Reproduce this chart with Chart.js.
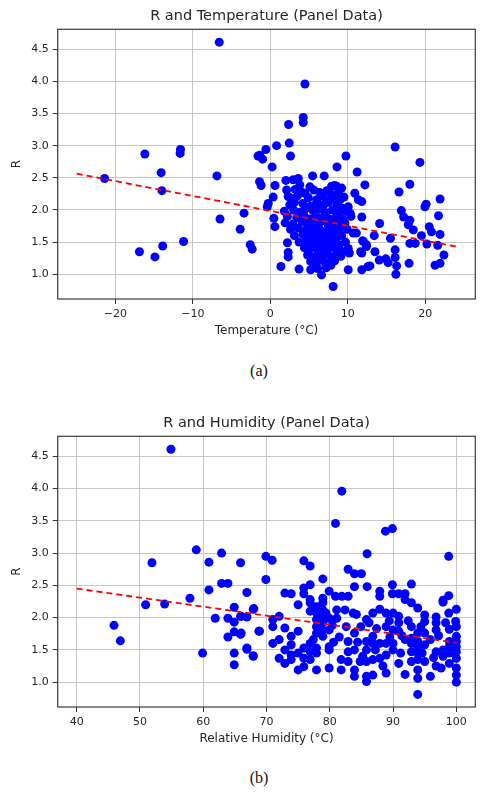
<!DOCTYPE html>
<html>
<head>
<meta charset="utf-8">
<script src="https://cdn.jsdelivr.net/npm/chart.js@4.4.1/dist/chart.umd.min.js"></script>
<style>
  html, body { margin: 0; padding: 0; background: #fff; }
  body { width: 502px; height: 793px; position: relative; overflow: hidden; }
  canvas { position: absolute; left: 0; }
  #chartA { top: 0; }
  #chartB { top: 407px; }
  .caption { position: absolute; left: 239px; width: 40px; text-align: center;
             font-family: "Liberation Serif", "DejaVu Serif", serif; font-size: 16px; color: #111; }
</style>
</head>
<body>
<canvas id="chartA" width="502" height="345"></canvas>
<div class="caption" style="top: 362px;">(a)</div>
<canvas id="chartB" width="502" height="346"></canvas>
<div class="caption" style="top: 769px;">(b)</div>
<script>
// tick labels
const rTicks = [1.0, 1.5, 2.0, 2.5, 3.0, 3.5, 4.0, 4.5];
const tempTicks = [-20, -10, 0, 10, 20];
const humTicks = [40, 50, 60, 70, 80, 90, 100];

// (a) temperature (°C) vs R
const tempPoints = [
  [-6.6,4.61],[-16.2,2.87],[-11.6,2.94],[-11.65,2.88],[-14.1,2.58],[-14.0,2.30],[-21.4,2.49],[-6.9,2.53],
  [-1.6,2.84],[-1.4,2.44],[-1.2,2.38],[-6.5,1.86],[-3.4,1.95],[-3.9,1.70],[-2.6,1.46],[-2.35,1.39],
  [-16.9,1.35],[-14.9,1.27],[-13.9,1.44],[-11.2,1.51],
  [4.46,3.96],[4.24,3.44],[4.24,3.36],[2.35,3.33],[2.43,3.04],[0.8,3.0],[-0.58,2.94],[-1.36,2.85],
  [-1.0,2.79],[2.6,2.84],[0.23,2.67],[16.1,2.98],[19.3,2.74],[9.75,2.84],[8.6,2.67],[11.2,2.59],
  [18.0,2.40],[16.6,2.28],[21.9,2.17],[12.2,2.39],[0.6,2.38],[2.0,2.46],[3.6,2.49],[5.45,2.53],
  [6.95,2.53],[8.3,2.38],[10.9,2.26],[2.1,2.31],[2.95,2.47],[3.8,2.39],[5.1,2.36],[7.9,2.37],
  [8.55,2.37],[9.2,2.34],[11.35,2.16],[0.36,2.20],[-0.28,2.10],[-0.4,2.05],[2.3,2.21],[4.46,2.26],
  [5.97,2.16],[7.7,2.16],[9.0,2.16],[10.05,2.05],[10.3,1.95],[9.6,1.79],[11.1,1.64],[12.0,1.51],
  [12.4,1.43],[0.45,1.87],[0.58,1.74],[2.2,1.49],[2.3,1.34],[2.3,1.27],[1.36,1.12],[3.7,1.08],
  [5.2,1.07],[6.6,0.99],[7.8,1.14],[8.1,0.81],[10.05,1.07],[11.8,1.07],[12.6,1.12],[10.2,1.33],
  [11.8,1.33],[12.85,1.13],[14.05,1.22],[14.9,1.24],[15.2,1.18],[16.1,1.26],[16.3,1.13],[16.2,1.0],
  [17.9,1.17],[21.25,1.14],[21.9,1.17],[22.4,1.30],[21.6,1.45],[20.2,1.47],[18.7,1.48],[18.0,1.48],
  [16.1,1.38],[13.5,1.35],[12.4,1.46],[11.9,1.52],[11.65,1.35],[13.4,1.6],[14.1,1.79],[15.5,1.56],
  [16.9,1.99],[17.2,1.89],[18.0,1.84],[18.45,1.69],[19.5,1.6],[19.95,2.05],[20.1,2.09],[20.5,1.74],
  [20.8,1.66],[21.7,1.91],[21.9,1.62],[11.8,1.89],[10.7,1.64],[10.05,1.40],[9.4,1.35],[11.8,2.13],
  [17.8,1.77],
  [3.2,2.32],[4.0,2.28],[5.6,2.31],[6.4,2.27],[7.3,2.30],[8.8,2.29],
  [2.8,2.18],[3.5,2.22],[4.9,2.19],[6.8,2.21],[7.9,2.24],[8.4,2.18],[9.5,2.2],
  [2.5,2.08],[3.1,2.12],[4.2,2.1],[5.2,2.06],[6.0,2.11],[6.9,2.08],[7.5,2.12],[8.6,2.09],[9.2,2.03],
  [1.8,1.98],[3.0,2.0],[3.9,1.97],[4.6,2.02],[5.5,1.99],[6.3,2.01],[7.1,1.96],[8.0,2.0],[8.9,1.97],[9.8,1.98],
  [2.2,1.9],[3.4,1.88],[4.3,1.92],[5.0,1.86],[5.8,1.9],[6.5,1.87],[7.2,1.91],[7.8,1.85],[8.5,1.89],[9.3,1.86],[10.4,1.9],
  [1.9,1.8],[2.9,1.78],[4.1,1.82],[4.8,1.77],[5.4,1.81],[6.1,1.79],[6.7,1.83],[7.4,1.78],[8.1,1.8],[8.7,1.76],[9.6,1.8],
  [2.6,1.7],[3.6,1.72],[4.5,1.68],[5.1,1.72],[5.7,1.69],[6.3,1.71],[6.9,1.66],[7.6,1.7],[8.3,1.68],[9.0,1.72],[9.9,1.7],
  [3.1,1.6],[4.2,1.62],[4.9,1.58],[5.5,1.61],[6.0,1.57],[6.6,1.62],[7.2,1.58],[7.8,1.61],[8.5,1.57],[9.2,1.6],
  [3.7,1.5],[4.6,1.52],[5.3,1.48],[5.9,1.51],[6.5,1.47],[7.0,1.52],[7.7,1.49],[8.3,1.51],[8.9,1.46],[9.7,1.5],
  [4.4,1.41],[5.0,1.38],[5.7,1.42],[6.2,1.37],[6.8,1.41],[7.4,1.38],[8.0,1.42],[8.7,1.39],
  [4.8,1.3],[5.5,1.27],[6.1,1.31],[6.7,1.28],[7.3,1.32],[7.9,1.27],[8.5,1.31],[9.1,1.28],
  [5.2,1.2],[5.9,1.17],[6.4,1.22],[7.0,1.19],[7.7,1.16],[8.3,1.21],
  [6.1,1.09],[7.2,1.1],[5.6,1.12]
];
const tempFitX = [-25, 24];
const tempFitR = [2.564, 1.43];

// (b) relative humidity vs R
const humPoints = [
  [54.9,4.61],[51.9,2.85],[58.9,3.05],[62.9,3.0],[60.9,2.86],[65.9,2.85],[62.9,2.53],[63.9,2.53],
  [60.9,2.43],[66.9,2.39],[57.9,2.30],[50.9,2.2],[53.9,2.21],[64.9,2.16],[68.0,2.14],
  [45.9,1.88],[46.9,1.64],[59.9,1.45],[61.9,1.99],[63.9,1.99],[64.9,1.93],[65.9,2.02],[66.9,2.01],
  [63.9,1.70],[64.9,1.78],[65.9,1.74],[64.9,1.45],[64.9,1.27],[66.9,1.51],[67.9,1.41],[68.8,1.79],
  [81.9,3.96],[80.9,3.46],[88.8,3.34],[89.9,3.38],[98.8,2.95],[85.9,2.99],[69.9,2.95],[70.9,2.89],
  [75.9,2.88],[76.9,2.80],[82.9,2.75],[83.9,2.68],[85.0,2.68],[69.9,2.59],[78.9,2.60],[76.9,2.51],
  [75.9,2.46],[75.9,2.37],[83.9,2.48],[85.9,2.48],[89.9,2.51],[92.9,2.52],[72.9,2.38],[73.9,2.37],
  [79.9,2.41],[80.9,2.33],[82.9,2.33],[87.9,2.41],[87.9,2.33],[89.9,2.37],[90.9,2.37],[91.9,2.37],
  [98.8,2.34],[78.9,2.30],[76.9,2.28],[97.9,2.27],
  [67.9,2.13],[81.9,2.33],[97.9,2.24],[100,2.13],[98.8,2.07],[99.9,1.94],[100,1.86],[98.9,1.82],
  [100,1.71],[100,1.63],[98.9,1.63],[100,1.55],[98.9,1.55],[100,1.47],[98.9,1.45],[100,1.37],
  [98.9,1.29],[100,1.22],[100,1.11],[100,1.0],[97.9,1.50],[97.9,1.40],[96.8,2.01],[96.8,1.92],
  [96.8,1.81],[96.8,1.47],[97.6,1.22],[96.8,1.25],[95.9,1.09],[95,2.04],[95,1.94],[95,1.76],
  [95,1.58],[95,1.32],[93.9,2.15],[93.9,1.76],[93.9,1.63],[93.9,1.55],[93.9,1.45],[93.9,1.35],
  [93.9,1.19],[93.9,1.06],[93.9,0.81],[92.9,2.23],[92.9,1.86],[92.9,1.68],[92.9,1.60],[92.9,1.47],
  [92.9,1.32],[91.9,2.28],[91.9,1.66],[91.9,1.12],[90.9,2.02],[90.9,1.92],[90.9,1.79],[90.9,1.29],
  [90,2.07],[90,1.81],[90,1.60],[90,1.50],[88.9,2.07],[88.9,1.86],[88.9,1.60],[88.9,1.42],
  [88.9,1.14],[87.9,2.13],[87.9,1.60],[87.9,1.37],[86.8,2.07],[86.8,1.71],[86.8,1.60],[86.8,1.35],
  [86.8,1.11],[85.8,1.97],[85.8,1.63],[85.8,1.50],[85.8,1.32],[85.8,1.09],[85.8,1.01],[84.8,1.32],
  [83.9,1.76],[83.9,1.50],[83.9,1.19],[83.9,1.09],[83.7,2.07],[84.2,2.05],[82.9,1.63],[82.9,1.47],
  [82.9,1.32],[81.8,1.35],[81.8,1.19],[82.4,2.12],[81.1,2.12],[81.1,1.99],[82.6,1.86],[79.9,1.99],
  [79.9,1.81],[79.9,1.55],[79.9,1.50],[79.9,1.22],[78.9,2.23],[78.9,2.12],[78.9,2.02],[78.9,1.92],
  [78.9,1.81],[78.9,1.71],[77.9,2.17],[77.9,2.07],[77.9,1.97],[77.9,1.86],[77.9,1.76],[77.9,1.53],
  [77.9,1.45],[77.9,1.19],[76.9,2.23],[76.9,2.10],[76.9,1.60],[76.9,1.47],[76.9,1.35],[75.9,1.53],
  [75.9,1.37],[75.9,1.24],[75.0,2.20],[75.0,1.79],[75.0,1.45],[75.0,1.19],[73.9,1.71],[73.9,1.58],
  [73.9,1.42],[73.9,1.35],[72.9,1.84],[72.9,1.50],[72.9,1.29],[72.0,2.02],[72.0,1.66],[72.0,1.37],
  [71.0,1.97],[71.0,1.86],[71.0,1.60],[68.9,1.79],[67.9,1.40],[66.9,1.53],[66.0,1.76],[66.0,2.02],
  [84.9,1.86],[86.2,1.92],[87.4,1.83],[89.4,1.95],[91.4,1.72],[92.4,1.95],[94.4,1.86],[95.9,1.66],
  [97.2,1.72],[98.3,1.92],[89.5,1.70],[87.2,1.50],[91.2,1.45],[94.6,1.45],[96.4,1.38],[84.4,1.62],
  [88.4,1.25],[85.2,1.40],[80.4,1.88],[81.5,1.70],[79.4,2.07],[78.4,1.90],[77.4,1.66],[80.6,1.62]
];
const humFitX = [40, 100];
const humFitR = [2.45, 1.61];

const FONT = 'DejaVu Sans';
const TEXT = '#262626';

// frame around the plot area (all four spines)
const framePlugin = {
  id: 'frame',
  afterDraw(chart) {
    const { ctx, chartArea: a } = chart;
    ctx.save();
    ctx.strokeStyle = '#3a3a3a';
    ctx.lineWidth = 1.2;
    ctx.strokeRect(a.left, a.top, a.right - a.left, a.bottom - a.top);
    ctx.restore();
  }
};

function fmtX(v) {
  return v < 0 ? '\u2212' + Math.abs(v) : String(v);
}

function makeChart(id, cfg) {
  const ctx = document.getElementById(id).getContext('2d');
  return new Chart(ctx, {
    type: 'scatter',
    data: {
      datasets: [{
        type: 'line',
        data: cfg.fitX.map((x, i) => ({ x: x, y: cfg.fitY[i] })),
        borderColor: '#ff0000',
        borderWidth: 1.8,
        borderDash: [6, 4],
        pointRadius: 0,
        fill: false,
        order: 0
      }, {
        data: cfg.points.map(p => ({ x: p[0], y: p[1] })),
        backgroundColor: '#0000ff',
        borderWidth: 0,
        pointRadius: 4.5,
        pointHoverRadius: 4.5,
        order: 1
      }]
    },
    options: {
      responsive: false,
      animation: false,
      layout: { padding: { left: 0, right: 26.7, top: 0, bottom: 0 } },
      plugins: {
        legend: { display: false },
        tooltip: { enabled: false },
        title: {
          display: true,
          text: cfg.title,
          fullSize: false,
          color: TEXT,
          font: { family: FONT, size: 14.5, weight: 'normal', lineHeight: 1.2 },
          padding: { top: 8, bottom: 3.9 }
        }
      },
      scales: {
        x: {
          type: 'linear',
          min: cfg.xMin,
          max: cfg.xMax,
          afterBuildTicks: s => { s.ticks = cfg.xTicks.map(v => ({ value: v })); },
          afterFit: s => { s.height = 46; },
          border: { display: false },
          grid: { color: '#c6c6c6', lineWidth: 1, tickColor: '#333', tickLength: 5 },
          ticks: { color: TEXT, padding: 4, maxRotation: 0, font: { family: FONT, size: 11 }, callback: fmtX },
          title: {
            display: true,
            text: cfg.xLabel,
            color: TEXT,
            font: { family: FONT, size: 12, lineHeight: 1.2 },
            padding: { top: 0, bottom: 6.5 }
          }
        },
        y: {
          type: 'linear',
          min: 0.615,
          max: 4.81,
          afterBuildTicks: s => { s.ticks = rTicks.map(v => ({ value: v })); },
          afterFit: s => { s.width = 57.7; },
          border: { display: false },
          grid: { color: '#c6c6c6', lineWidth: 1, tickColor: '#333', tickLength: 5 },
          ticks: { color: TEXT, padding: 4, font: { family: FONT, size: 11 }, callback: v => v.toFixed(1) },
          title: {
            display: true,
            text: 'R',
            color: TEXT,
            font: { family: FONT, size: 12, lineHeight: 1.2 },
            padding: { top: 9.8, bottom: 0 }
          }
        }
      }
    },
    plugins: [framePlugin]
  });
}

makeChart('chartA', {
  title: 'R and Temperature (Panel Data)',
  xLabel: 'Temperature (\u00B0C)',
  points: tempPoints,
  fitX: tempFitX,
  fitY: tempFitR,
  xTicks: tempTicks,
  xMin: -27.45,
  xMax: 26.45
});

makeChart('chartB', {
  title: 'R and Humidity (Panel Data)',
  xLabel: 'Relative Humidity (\u00B0C)',
  points: humPoints,
  fitX: humFitX,
  fitY: humFitR,
  xTicks: humTicks,
  xMin: 37,
  xMax: 103
});
</script>
</body>
</html>
